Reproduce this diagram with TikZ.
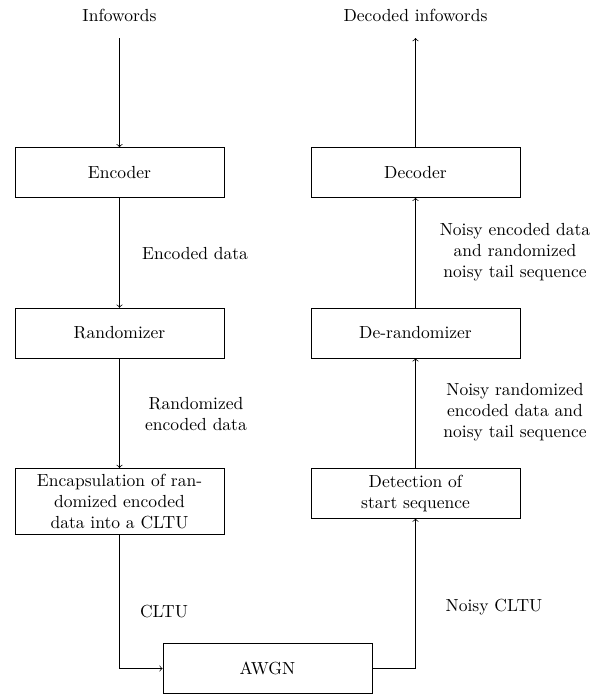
\documentclass[tikz,border=0pt]{standalone}
\usetikzlibrary{positioning}
\begin{document}
\begin{tikzpicture}[x=0.5714pt, y=-0.5714pt,
  blk/.style={draw, minimum width=4.2cm, minimum height=1cm, align=center},
  lbl/.style={align=center, inner sep=0pt},
  flow/.style={->}]
\useasboundingbox (0,0) rectangle (608,694);
% top labels
\node[lbl] (in) at (119.5,15) {Infowords};
\node[lbl] (out) at (415.5,15) {Decoded infowords};
\coordinate (inend) at (119.5,38);
\coordinate (outend) at (415.5,38);
% left column
\node[blk] (enc) at (119.5,172.5) {Encoder};
\node[blk] (rnd) at (119.5,333) {Randomizer};
\node[blk, anchor=north] (cap) at (119.5,468) {Encapsulation of ran-\\domized encoded\\data into a CLTU};
% right column
\node[blk] (dec) at (415.5,172.5) {Decoder};
\node[blk] (der) at (415.5,333) {De-randomizer};
\node[blk, anchor=north] (det) at (415.5,468) {Detection of\\start sequence};
% channel
\node[blk] (awgn) at (267.5,668.5) {AWGN};
% connectors
\draw[flow] (inend) -- (enc.north);
\draw[flow] (enc.south) -- (rnd.north);
\draw[flow] (rnd.south) -- (cap.north);
\draw[flow] (cap.south) |- (awgn.west);
\draw[flow] (awgn.east) -| (det.south);
\draw[flow] (det.north) -- (der.south);
\draw[flow] (der.north) -- (dec.south);
\draw[flow] (dec.north) -- (outend);
% connector labels
\node[lbl] (l1) at (195,254) {Encoded data};
\node[lbl] (l2) at (196,414) {Randomized\\encoded data};
\node[lbl] (l3) at (164,612) {CLTU};
\node[lbl] (l4) at (515,252) {Noisy encoded data\\and randomized\\noisy tail sequence};
\node[lbl] (l5) at (515,412) {Noisy randomized\\encoded data and\\noisy tail sequence};
\node[lbl] (l6) at (494,607) {Noisy CLTU};
\end{tikzpicture}
\end{document}
